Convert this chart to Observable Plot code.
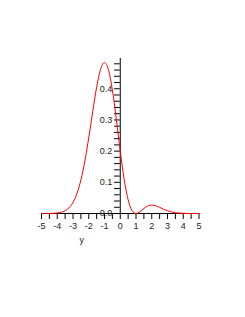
<!DOCTYPE html>
<html>
<head>
<meta charset="utf-8">
<script src="https://cdn.jsdelivr.net/npm/d3@7"></script>
<script src="https://cdn.jsdelivr.net/npm/@observablehq/plot@0.6"></script>
<style>
  html, body { margin: 0; padding: 0; background: #fff; }
  svg { display: block; }
</style>
</head>
<body>
<div id="chart"></div>
<script>
const xValues = [-5,-4.75,-4.5,-4.25,-4,-3.75,-3.5,-3.25,-3,-2.75,-2.5,-2.25,-2,-1.75,-1.5,-1.25,-1,-0.75,-0.5,-0.25,0,0.25,0.5,0.75,1,1.25,1.5,1.75,2,2.25,2.5,2.75,3,3.25,3.5,3.75,4,4.25,4.5,4.75,5];
const yValues = [0.00003,0.00008,0.00024,0.00066,0.00167,0.00398,0.00884,0.01834,0.03545,0.0640,0.1074,0.1677,0.2430,0.3262,0.4048,0.4623,0.4839,0.4611,0.3961,0.3021,0.1995,0.1088,0.0440,0.0094,0,0.0057,0.0162,0.0243,0.0270,0.0248,0.0197,0.0139,0.0089,0.0051,0.0027,0.0013,0.0006,0.00025,0.0001,0.00004,0.00001];
const xTickValues = [-5,-4.5,-4,-3.5,-3,-2.5,-2,-1.5,-1,-0.5,0,0.5,1,1.5,2,2.5,3,3.5,4,4.5,5];
const yTickValues = [0,0.02,0.04,0.06,0.08,0.1,0.12,0.14,0.16,0.18,0.2,0.22,0.24,0.26,0.28,0.3,0.32,0.34,0.36,0.38,0.4,0.42,0.44,0.46,0.48];
const yLabelValues = [0,0.1,0.2,0.3,0.4];
const xAxisLabel = "y";

const data = xValues.map((x, i) => ({x, y: yValues[i]}));
const font = "'Liberation Sans', Arial, sans-serif";

const chart = Plot.plot({
  width: 245,
  height: 317,
  marginLeft: 41,
  marginRight: 46.5,
  marginTop: 58,
  marginBottom: 104,
  style: {fontFamily: font, fontSize: "9px", background: "#fff"},
  x: {domain: [-5, 5], axis: null},
  y: {domain: [0, 0.497], axis: null},
  marks: [
    Plot.ruleY([0], {x1: -5, x2: 5, stroke: "black"}),
    Plot.ruleX([0], {y1: 0, y2: 0.497, stroke: "black"}),
    Plot.axisX(xTickValues, {
      anchor: "bottom", tickSize: 6, tickPadding: 3, label: null,
      tickFormat: d => Number.isInteger(d) ? String(d) : "",
      fill: "#222", fontSize: 9
    }),
    Plot.ruleY(yTickValues, {y: d => d, x1: -0.36, x2: 0, stroke: "black"}),
    Plot.text(yLabelValues, {x: 0, y: d => d, text: d => d.toFixed(1), textAnchor: "end", dx: -8, fill: "#222", fontSize: 9}),
    Plot.text([xAxisLabel], {x: -2.45, y: 0, dy: 27, text: d => d, fill: "#222", fontSize: 9}),
    Plot.line(data, {x: "x", y: "y", stroke: "#ff0000", strokeWidth: 1, curve: "monotone-x"})
  ]
});
document.getElementById("chart").appendChild(chart);
</script>
</body>
</html>
